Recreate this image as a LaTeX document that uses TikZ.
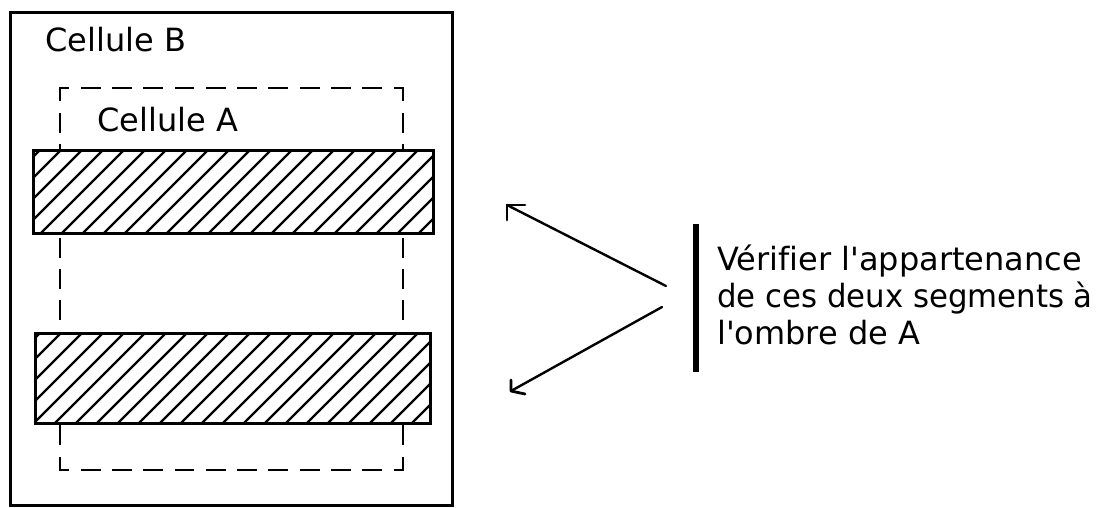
\documentclass[tikz,border=0pt]{standalone}
\usepackage{fontspec}
\setmainfont{DejaVu Sans}[Ligatures={TeXOff,NoCommon}]
\begin{document}
\begin{tikzpicture}[x=1pt,y=-1pt,
  outerbox/.style={line width=3pt},
  hatchbox/.style={line width=3pt},
  hatchline/.style={line width=2.2pt},
  dashtop/.style={line width=2.8pt,line cap=rect,dash pattern=on 17pt off 14.27pt,dash phase=9pt},
  dashside/.style={line width=2.8pt,line cap=rect,dash pattern=on 17pt off 14.25pt,dash phase=5pt},
  label/.style={inner sep=0pt,anchor=base west,font=\fontsize{32}{37}\selectfont},
  connector/.style={line width=2.4pt,line cap=round},
  barb/.style={line width=2.8pt,line cap=round,line join=round}]
\useasboundingbox (0,0) rectangle (1105,507);
% Cellule B
\draw[outerbox] (10,12) rectangle (452,505);
\node[label] (cb) at (45,51) {Cellule B};
% Cellule A (dashed)
\coordinate (atl) at (60,88);
\coordinate (atr) at (403,88);
\coordinate (abr) at (403,470);
\coordinate (abl) at (60,470);
\draw[dashtop] (atl) -- (atr);
\draw[dashtop] (abl) -- (abr);
\draw[dashside] (atl) -- (abl);
\draw[dashside] (atr) -- (abr);
\node[label] (ca) at (97,131) {Cellule A};
% hatched segment 1
\fill[white] (33,150) rectangle (433,233);
\begin{scope}
  \clip (33,150) rectangle (433,233);
  \foreach \k in {0,...,24} \draw[hatchline] ({40+21*\k},150) -- ({40+21*\k-83},233);
\end{scope}
\draw[hatchbox] (33,150) rectangle (433,233);
% hatched segment 2
\fill[white] (35,333) rectangle (430,423);
\begin{scope}
  \clip (35,333) rectangle (430,423);
  \foreach \k in {0,...,24} \draw[hatchline] ({40+21*\k},333) -- ({40+21*\k-90},423);
\end{scope}
\draw[hatchbox] (35,333) rectangle (430,423);
% arrows
\coordinate (u0) at (666,286);
\coordinate (u1) at (507,205);
\coordinate (l0) at (662,307);
\coordinate (l1) at (511,391);
\draw[connector] (u0) -- (u1);
\draw[barb] (u1) ++(18,0) -- (u1) -- ++(0,15);
\draw[connector] (l0) -- (l1);
\draw[barb] (l1) ++(14,3) -- (l1) -- ++(0,-11);
% bar
\coordinate (b0) at (696,224);
\coordinate (b1) at (696,372);
\draw[line width=6pt] (b0) -- (b1);
% text
\node[label] (t1) at (717,270) {Vérifier l'appartenance};
\node[label] (t2) at (717,307) {\scalebox{0.962}[1]{de ces deux segments à}};
\node[label] (t3) at (717,344) {l'ombre de A};
\end{tikzpicture}
\end{document}
